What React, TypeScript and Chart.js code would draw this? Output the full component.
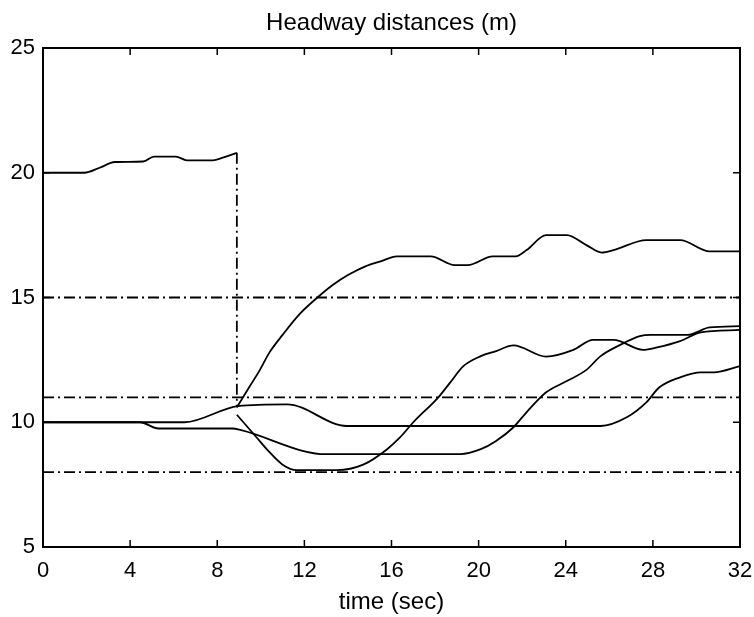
import React, { useEffect, useRef } from "react";
import { Chart, registerables } from "chart.js";

Chart.register(...registerables);

// Leading gap before the cut-in
const tA = [0, 1.9, 2.6, 3.3, 4.6, 5.1, 6.1, 6.6, 7.8, 8.4, 8.9];
const yA = [20.0, 20.0, 20.2, 20.43, 20.45, 20.65, 20.65, 20.5, 20.5, 20.65, 20.8];

// Cut-in jump (dash-dot vertical)
const tCut = [8.9, 8.9];
const yCut = [20.8, 10.6];

const tB = [0, 6.5, 8.95, 11.2, 13.95, 25.6, 26.8, 27.7, 28.3, 29.25, 30.2, 30.8, 32];
const yB = [10.0, 10.0, 10.65, 10.72, 9.85, 9.85, 10.2, 10.8, 11.4, 11.8, 12.0, 12.0, 12.25];

const tC = [0, 4.45, 5.3, 8.7, 9.1, 13.0, 19.15, 20.1, 20.8, 21.6, 22.2, 23.1, 24.05, 24.95, 25.6, 26.5, 27.4, 27.9, 29.6, 30.6, 32];
const yC = [10.0, 10.0, 9.75, 9.75, 9.68, 8.72, 8.72, 8.92, 9.25, 9.8, 10.4, 11.2, 11.65, 12.1, 12.65, 13.1, 13.45, 13.5, 13.5, 13.8, 13.85];

const tD = [8.9, 9.8, 10.4, 11.0, 11.65, 13.5, 14.7, 15.8, 16.4, 17.0, 18.15, 18.7, 19.3, 20.1, 20.8, 21.6, 23.1, 24.35, 25.25, 26.2, 27.55, 28.2, 29.25, 30.2, 32];
const yD = [10.3, 9.4, 8.8, 8.3, 8.08, 8.08, 8.3, 8.92, 9.4, 10.0, 11.0, 11.6, 12.25, 12.65, 12.85, 13.08, 12.63, 12.9, 13.3, 13.3, 12.9, 13.0, 13.25, 13.6, 13.7];

const tE = [8.9, 9.5, 9.96, 10.4, 11.0, 11.8, 12.6, 13.3, 14.0, 14.8, 15.5, 16.25, 17.8, 18.9, 19.5, 20.65, 21.7, 22.2, 23.1, 24.05, 24.95, 25.65, 26.2, 27.7, 29.25, 30.6, 32];
const yE = [10.6, 11.45, 12.1, 12.8, 13.5, 14.35, 15.0, 15.5, 15.9, 16.25, 16.45, 16.65, 16.65, 16.3, 16.3, 16.65, 16.65, 16.9, 17.5, 17.5, 17.1, 16.8, 16.9, 17.3, 17.3, 16.85, 16.85];

// Reference headway levels (dash-dot horizontals)
const tRef = [0, 32];
const refLevels = [15, 11, 8];

const xTicks = [0, 4, 8, 12, 16, 20, 24, 28, 32];
const yTicks = [5, 10, 15, 20, 25];

const FONT = "'Liberation Sans', Arial, Helvetica, sans-serif";
const DASHDOT = [11, 4, 2, 4];
const LW = 1.8;

const pts = (ts: number[], ys: number[]) => ts.map((t, i) => ({ x: t, y: ys[i] }));

const framePlugin = {
  id: "frameTicks",
  afterDraw(chart: any) {
    const { ctx, chartArea, scales } = chart;
    const { left, right, top, bottom } = chartArea;
    const L = 7;
    ctx.save();
    ctx.strokeStyle = "#000";
    ctx.lineWidth = 2;
    ctx.strokeRect(left, top, right - left, bottom - top);
    ctx.lineWidth = 1.5;
    ctx.beginPath();
    xTicks.forEach((v) => {
      const px = scales.x.getPixelForValue(v);
      ctx.moveTo(px, bottom);
      ctx.lineTo(px, bottom - L);
      ctx.moveTo(px, top);
      ctx.lineTo(px, top + L);
    });
    yTicks.forEach((v) => {
      const py = scales.y.getPixelForValue(v);
      ctx.moveTo(left, py);
      ctx.lineTo(left + L, py);
      ctx.moveTo(right, py);
      ctx.lineTo(right - L, py);
    });
    ctx.stroke();
    ctx.restore();
  },
};

export default function App() {
  const ref = useRef<HTMLCanvasElement>(null);

  useEffect(() => {
    if (!ref.current) return;
    const solid = (ts: number[], ys: number[]) => ({
      data: pts(ts, ys),
      borderColor: "#000",
      borderWidth: LW,
      pointRadius: 0,
      fill: false,
      cubicInterpolationMode: "monotone" as const,
    });
    const dashed = (ts: number[], ys: number[]) => ({
      data: pts(ts, ys),
      borderColor: "#000",
      borderWidth: LW,
      borderDash: DASHDOT,
      pointRadius: 0,
      tension: 0,
      fill: false,
    });
    const datasets: any[] = [
      solid(tA, yA),
      solid(tB, yB),
      solid(tC, yC),
      solid(tD, yD),
      solid(tE, yE),
      dashed(tCut, yCut),
      ...refLevels.map((lv) => dashed(tRef, tRef.map(() => lv))),
    ];

    const chart = new Chart(ref.current, {
      type: "line",
      data: { datasets },
      plugins: [framePlugin],
      options: {
        animation: false,
        responsive: false,
        devicePixelRatio: 1,
        layout: { padding: { left: 0, right: 14, top: 0, bottom: 0 } },
        plugins: {
          legend: { display: false },
          tooltip: { enabled: false },
          title: {
            display: true,
            fullSize: false,
            text: "Headway distances (m)",
            color: "#000",
            font: { family: FONT, size: 24, weight: "normal" },
            padding: { top: 9, bottom: 10.2 },
          },
        },
        scales: {
          x: {
            type: "linear",
            min: 0,
            max: 32,
            afterBuildTicks: (s: any) => {
              s.ticks = xTicks.map((v) => ({ value: v }));
            },
            afterFit: (s: any) => {
              s.height = 70;
              s.paddingLeft = 0;
              s.paddingRight = 0;
            },
            grid: { display: false, drawTicks: false },
            border: { display: false },
            ticks: {
              color: "#000",
              padding: 11,
              maxRotation: 0,
              autoSkip: false,
              font: { family: FONT, size: 22 },
            },
            title: {
              display: true,
              text: "time (sec)",
              color: "#000",
              font: { family: FONT, size: 24 },
              padding: { top: 0, bottom: 0 },
            },
          },
          y: {
            type: "linear",
            min: 5,
            max: 25,
            afterBuildTicks: (s: any) => {
              s.ticks = yTicks.map((v) => ({ value: v }));
            },
            afterFit: (s: any) => {
              s.width = 43;
              s.paddingTop = 0;
              s.paddingBottom = 0;
            },
            grid: { display: false, drawTicks: false },
            border: { display: false },
            ticks: {
              color: "#000",
              padding: 8,
              autoSkip: false,
              font: { family: FONT, size: 22 },
            },
          },
        },
      },
    });
    return () => chart.destroy();
  }, []);

  return (
    <div style={{ position: "absolute", left: 0, top: 0, width: 754, height: 617, background: "#fff" }}>
      <canvas ref={ref} width={754} height={617} style={{ display: "block" }} />
    </div>
  );
}
